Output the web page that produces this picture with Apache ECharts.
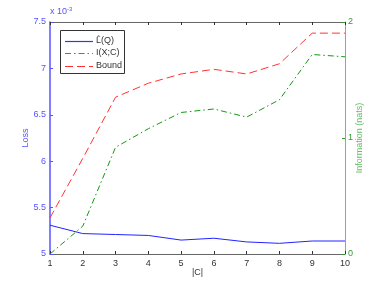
<!DOCTYPE html>
<html><head><meta charset="utf-8">
<script src="https://cdn.jsdelivr.net/npm/echarts@6/dist/echarts.min.js"></script>
<style>html,body{margin:0;padding:0;background:#fff}#c{width:381px;height:286px}</style>
</head><body><div id="c"></div>
<script>
var clusters = [1,2,3,4,5,6,7,8,9,10];
var lossHat = [5.31,5.22,5.21,5.20,5.15,5.17,5.13,5.115,5.14,5.14];
var info = [0.0,0.24,0.92,1.08,1.22,1.25,1.18,1.33,1.72,1.70];
var bound = [5.39,6.03,6.69,6.84,6.94,6.99,6.94,7.05,7.38,7.38];
var seriesNames = ['L\u0302(Q)','I(X;C)','Bound'];
var xTicks = [1,2,3,4,5,6,7,8,9,10];
var lossTicks = [5,5.5,6,6.5,7,7.5];
var infoTicks = [0,1,2];

function pairs(xs, ys){ return xs.map(function(x,i){return [x, ys[i]];}); }

var chart = echarts.init(document.getElementById('c'), null, {renderer:'canvas'});
var F = 'Liberation Sans, Arial, sans-serif';
var cBlue = '#2222ff', cGreen = '#119911', cRed = '#ff3333';
var dashDot = [6,3,1.5,3], dash = [8,4];
var styles = [
  {color:'#3333ff',type:'solid'},
  {color:'#22aa22',type:dashDot},
  {color:cRed,type:dash}
];

var legendEls = [{
  type:'rect',shape:{x:60.5,y:30.5,width:64,height:43},
  style:{fill:'#fff',stroke:'#333',lineWidth:1},z:10
}];
var rowY = [41,53,66];
seriesNames.forEach(function(n,i){
  legendEls.push({type:'line',shape:{x1:65,y1:rowY[i]+0.5,x2:93,y2:rowY[i]+0.5},
    style:{stroke:styles[i].color,lineWidth:1.2,lineDash:styles[i].type==='solid'?null:styles[i].type},z:11});
  legendEls.push({type:'text',x:96,y:rowY[i],
    style:{text:n,fill:'#333',fontSize:9,fontFamily:F,verticalAlign:'middle',align:'left'},z:11});
});
legendEls.push({
  type:'text',left:50,top:6,
  style:{text:'{a|x 10}{b|-3}',fill:'#5555ff',
    rich:{a:{fontSize:9,fontFamily:F,fill:'#5555ff'},b:{fontSize:6,fontFamily:F,fill:'#5555ff',verticalAlign:'top',padding:[0,0,6,0]}}}
});

chart.setOption({
  animation:false,
  grid:{left:50,right:36,top:22,bottom:32,containLabel:false},
  xAxis:[{
    type:'value',min:1,max:10,interval:1,position:'bottom',
    name:'|C|',nameLocation:'middle',nameGap:14,nameMoveOverlap:false,
    nameTextStyle:{color:'#333',fontSize:9,fontFamily:F},
    axisLine:{lineStyle:{color:'#666',width:1}},
    axisTick:{inside:true,length:3,lineStyle:{color:'#333'}},
    axisLabel:{color:'#333',fontSize:9,fontFamily:F,margin:5},
    splitLine:{show:false}
  },{
    type:'value',min:1,max:10,interval:1,position:'top',
    axisLine:{lineStyle:{color:'#666',width:1}},
    axisTick:{inside:true,length:3,lineStyle:{color:'#333'}},
    axisLabel:{show:false},splitLine:{show:false}
  }],
  yAxis:[{
    type:'value',min:5,max:7.5,interval:0.5,position:'left',
    name:'Loss',nameLocation:'middle',nameGap:20,nameMoveOverlap:false,
    nameTextStyle:{color:'#5555ff',fontSize:9,fontFamily:F},
    axisLine:{show:true,lineStyle:{color:'#5555ff',width:1.5}},
    axisTick:{inside:true,length:3,lineStyle:{color:'#5555ff'}},
    axisLabel:{color:'#5555ff',fontSize:9,fontFamily:F,margin:4,
      formatter:function(v){return String(Math.round(v*10)/10);}},
    splitLine:{show:false}
  },{
    type:'value',min:0,max:2,interval:1,position:'right',
    name:'Information (nats)',nameLocation:'middle',nameGap:10,nameRotate:90,nameMoveOverlap:false,
    nameTextStyle:{color:'#66bb66',fontSize:9,fontFamily:F},
    axisLine:{show:true,lineStyle:{color:'#77bb77',width:1}},
    axisTick:{inside:true,length:3,lineStyle:{color:'#339933'}},
    axisLabel:{color:'#339933',fontSize:9,fontFamily:F,margin:3},
    splitLine:{show:false}
  }],
  graphic:legendEls,
  series:[{
    name:seriesNames[0],type:'line',xAxisIndex:0,yAxisIndex:0,symbol:'none',
    data:pairs(clusters,lossHat),
    lineStyle:{color:cBlue,width:1},itemStyle:{color:cBlue}
  },{
    name:seriesNames[1],type:'line',xAxisIndex:0,yAxisIndex:1,symbol:'none',
    data:pairs(clusters,info),
    lineStyle:{color:cGreen,width:1,type:dashDot},itemStyle:{color:cGreen}
  },{
    name:seriesNames[2],type:'line',xAxisIndex:0,yAxisIndex:0,symbol:'none',
    data:pairs(clusters,bound),
    lineStyle:{color:cRed,width:1,type:dash},itemStyle:{color:cRed}
  }]
});
</script></body></html>
